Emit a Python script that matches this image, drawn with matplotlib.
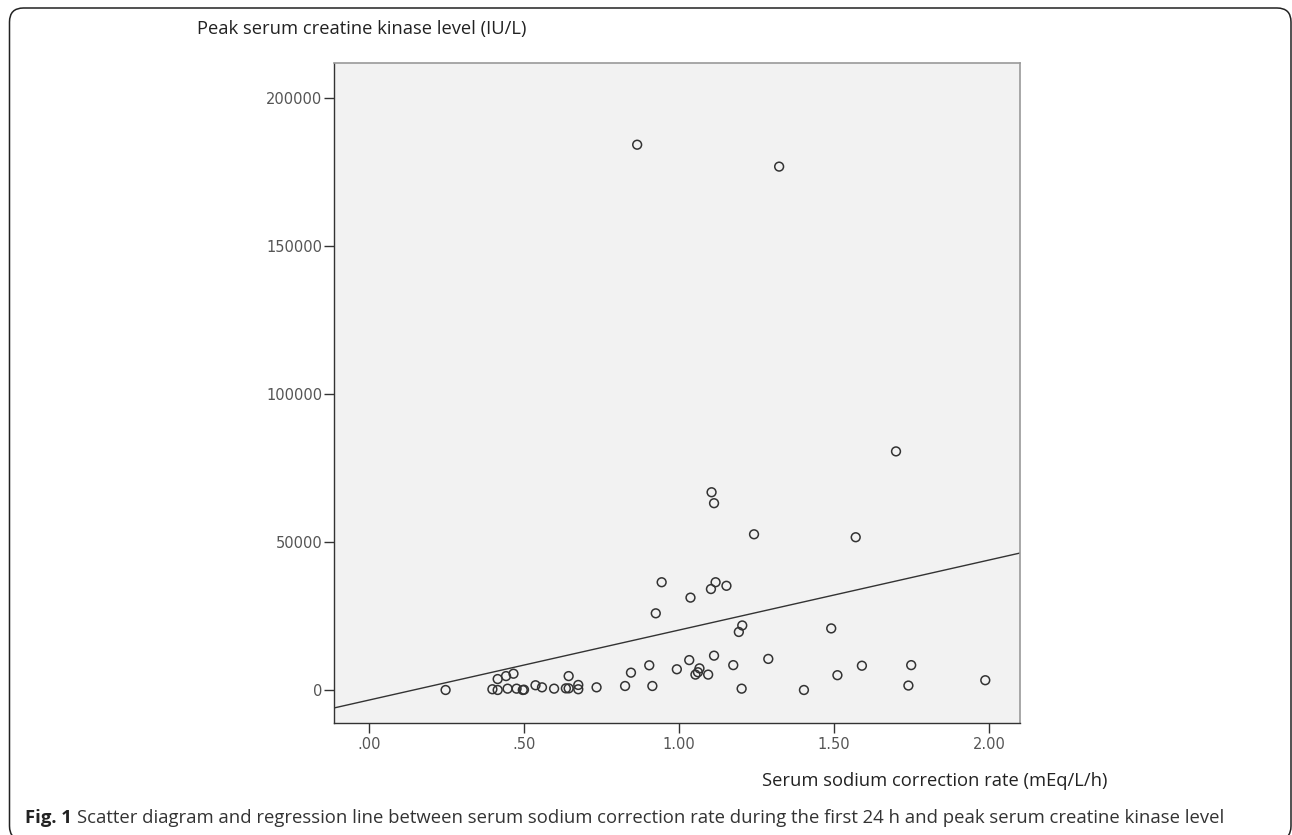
import matplotlib
matplotlib.use("Agg")
import matplotlib.pyplot as plt
import numpy as np
from matplotlib.patches import FancyBboxPatch
from matplotlib.transforms import IdentityTransform

# serum sodium correction rate (mEq/L/h)
correction_rate = [
    0.247, 0.398, 0.415, 0.415, 0.442, 0.447, 0.466, 0.476, 0.496, 0.500,
    0.537, 0.558, 0.597, 0.635, 0.644, 0.644, 0.675, 0.675, 0.734, 0.826,
    0.845, 0.865, 0.904, 0.914, 0.925, 0.944, 0.993, 1.033, 1.037, 1.053,
    1.061, 1.066, 1.094, 1.103, 1.105, 1.113, 1.113, 1.118, 1.153, 1.175,
    1.193, 1.202, 1.204, 1.242, 1.288, 1.323, 1.403, 1.491, 1.511, 1.570,
    1.590, 1.700, 1.740, 1.749, 1.988,
]
# peak serum creatine kinase (IU/L)
peak_ck = [
    0, 250, 3700, 0, 4700, 450, 5500, 450, 0, 100,
    1600, 900, 450, 550, 4700, 550, 1700, 250, 900, 1350,
    5850, 184200, 8340, 1350, 25900, 36400, 7000, 10100, 31200, 5200,
    6000, 7300, 5200, 34100, 66800, 63100, 11600, 36400, 35200, 8400,
    19600, 450, 21800, 52600, 10500, 176800, 0, 20800, 5000, 51600,
    8200, 80600, 1500, 8400, 3300,
]

# regression line
fit_intercept = -3400
fit_slope = 23650

x_ticks = [0.0, 0.5, 1.0, 1.5, 2.0]
x_tick_labels = [".00", ".50", "1.00", "1.50", "2.00"]
y_ticks = [0, 50000, 100000, 150000, 200000]
y_tick_labels = ["0", "50000", "100000", "150000", "200000"]

W, H = 1292, 835
fig = plt.figure(figsize=(W / 100, H / 100), dpi=100)
fig.patch.set_facecolor("white")

ax = fig.add_axes([334 / W, 1 - 723 / H, 686 / W, 660 / H])
ax.set_facecolor("#f2f2f2")

ax.scatter(correction_rate, peak_ck, s=40, facecolors="none",
           edgecolors="#333333", linewidths=1.1, zorder=3)

xl = np.array([-0.113, 2.10])
ax.plot(xl, fit_intercept + fit_slope * xl, color="#333333", lw=1.0, zorder=2)

ax.set_xlim(-0.113, 2.10)
ax.set_ylim(-11150, 211800)

ax.set_xticks(x_ticks)
ax.set_xticklabels(x_tick_labels)
ax.set_yticks(y_ticks)
ax.set_yticklabels(y_tick_labels)
ax.tick_params(axis="both", direction="out", length=7, width=1.0,
               color="#333333", labelcolor="#555555", labelsize=10.5,
               pad=1.5)
ax.tick_params(axis="x", pad=3)

for side in ["left", "bottom"]:
    ax.spines[side].set_color("#333333")
    ax.spines[side].set_linewidth(1.0)
for side in ["top", "right"]:
    ax.spines[side].set_color("#9a9a9a")
    ax.spines[side].set_linewidth(1.2)

label_font = "Open Sans"
fig.text(197 / W, 1 - 29 / H, "Peak serum creatine kinase level (IU/L)",
         ha="left", va="center", fontsize=13.2, family=label_font,
         color="#222222")
fig.text(1107 / W, 1 - 781 / H, "Serum sodium correction rate (mEq/L/h)",
         ha="right", va="center", fontsize=13.2, family=label_font,
         color="#222222")

caption = fig.text(25 / W, 1 - 818 / H, "Fig. 1", ha="left", va="center",
                   fontsize=13.3, family=label_font, weight="bold",
                   color="#222222")
fig.canvas.draw()
bb = caption.get_window_extent()
fig.text((bb.x1 + 5) / W, 1 - 818 / H,
         "Scatter diagram and regression line between serum sodium correction "
         "rate during the first 24 h and peak serum creatine kinase level",
         ha="left", va="center", fontsize=13.3, family=label_font,
         color="#333333")

frame = FancyBboxPatch((9.5, -5), 1281.5, 827 + 5, transform=IdentityTransform(),
                       boxstyle="round,pad=0,rounding_size=14",
                       facecolor="none", edgecolor="#222222", lw=1.1)
fig.add_artist(frame)

fig.savefig("out.png", dpi=100)
